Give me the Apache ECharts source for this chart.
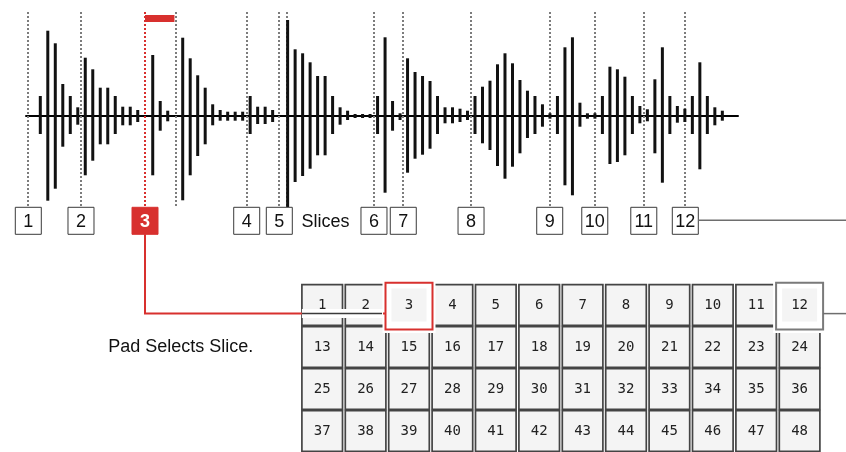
<!DOCTYPE html>
<html><head><meta charset="utf-8">
<script src="https://cdn.jsdelivr.net/npm/echarts@6/dist/echarts.min.js"></script>
<style>html,body{margin:0;padding:0;background:#fff}#c{width:846px;height:452px}</style>
</head><body><div id="c"></div>
<script>
// waveform: amplitude above / below the baseline for each sample bar
const ampUp = [20,85.3,72.7,32,20,8.7,58.3,46.7,28.3,28.3,20,9.3,9.3,6,0,61,15,5.3,0,78.3,57.7,40.7,28.3,11.7,6,4.3,4.3,4.3,20,9.3,9.3,6,0,96,66.7,62.7,53.7,40,40,20,8.7,5.3,2,2,2,20,78.7,15,2.7,57.7,44,40,35,20,8.7,8.7,7.3,5.3,20,29.3,35.3,51.7,62.7,52.7,36,25.3,20,11.7,2.7,20,68.7,78.7,13.3,2.7,2.7,20,49.3,46.7,39.3,20,10,6.7,36.7,68.7,20,10,7.3,20,53.7,20,8.7,5.3];
const ampDown = [18,84.7,72.7,30.7,18,8.7,59.3,44.7,28.3,28.3,18,9.3,9.3,6,0,59.3,14.7,5.3,0,84.3,59.3,40,28.3,9.3,4.7,4.7,4.7,4.7,18,8,8,6,0,91,66,60,52.7,39.3,39.3,18,8.7,4,2,2,2,18,76.7,14.7,4,56.7,42.7,38.7,32.7,18,7.3,7.3,6,4,18,27.3,34,50,62.7,50.7,37.3,22,18,10.7,2.7,18,69.3,79.3,10.7,2.7,2.7,18,48,46,39.3,18,7.3,5.3,37.3,66.7,18,6.7,6,18,53.3,18,9.3,4.7];
// slice start positions (in sample-bar units) and their labels
const sliceLabels = ['1','2','3','4','5','6','7','8','9','10','11','12'];
const slicePos = [-1.6,5.43,13.97,27.54,31.89,44.52,48.43,57.47,67.97,73.98,80.52,86.06];
const extraMarkers = [18.07,32.92];
const selectedSlice = 3;
const selectedRegion = [13.97,17.9];
// pad grid
const padLabels = [
  '1','2','3','4','5','6','7','8','9','10','11','12',
  '13','14','15','16','17','18','19','20','21','22','23','24',
  '25','26','27','28','29','30','31','32','33','34','35','36',
  '37','38','39','40','41','42','43','44','45','46','47','48'];
const padCols = 12;
const highlightedPads = [[2,0,'#d8302e'],[11,0,'#7a7a7a']];

const RED = '#d8302e';
const SANS = '"Liberation Sans", Arial, sans-serif';
const MONO = '"DejaVu Sans Mono", monospace';

const chart = echarts.init(document.getElementById('c'), null, {renderer:'canvas'});

const markerData = slicePos.map((p,k)=>[p, (k+1)===selectedSlice ? 1 : 0]).concat(extraMarkers.map(p=>[p,0]));
const padData = padLabels.map((l,k)=>[k%padCols, Math.floor(k/padCols), l]);

chart.setOption({
  animation:false,
  backgroundColor:'#fff',
  grid:[
    {left:26, width:712, top:16, height:200},
    {left:300.5, width:520.8, top:284, height:171.2}
  ],
  xAxis:[
    {gridIndex:0, type:'value', min:-1.908, max:93.09,
     axisLine:{show:true, onZero:true, lineStyle:{color:'#000', width:2}},
     axisTick:{show:false}, axisLabel:{show:false}, splitLine:{show:false}},
    {gridIndex:1, type:'value', min:0, max:12, show:false}
  ],
  yAxis:[
    {gridIndex:0, type:'value', min:-100, max:100,
     axisLine:{show:false}, axisTick:{show:false}, axisLabel:{show:false}, splitLine:{show:false}},
    {gridIndex:1, type:'value', min:0, max:4, inverse:true, show:false}
  ],
  series:[
    { // slice marker lines
      type:'custom', xAxisIndex:0, yAxisIndex:0, clip:false, z:1,
      data: markerData,
      renderItem:(params, api)=>{
        const x = api.value(0), red = api.value(1);
        const p1 = api.coord([x, 104]);
        const p2 = api.coord([x, red ? -91.3 : -92]);
        return {type:'line', shape:{x1:Math.round(p1[0]), y1:p1[1], x2:Math.round(p2[0]), y2:p2[1]},
          style:{stroke: red ? RED : '#7c7c7c', lineWidth:2, lineDash:[2,2]}};
      }
    },
    { // waveform bars
      type:'custom', xAxisIndex:0, yAxisIndex:0, clip:false, z:3,
      data: ampUp.map((u,i)=>[i,u,ampDown[i]]),
      encode:{x:0, y:[1,2]},
      renderItem:(params, api)=>{
        const i = api.value(0);
        const p1 = api.coord([i, api.value(1)]);
        const p2 = api.coord([i, -api.value(2)]);
        return {type:'line', shape:{x1:p1[0], y1:p1[1], x2:p2[0], y2:p2[1]},
          style:{stroke:'#111', lineWidth:3}};
      }
    },
    { // selected region bar
      type:'custom', xAxisIndex:0, yAxisIndex:0, clip:false, z:3,
      data:[selectedRegion],
      renderItem:(params, api)=>{
        const a = api.coord([api.value(0), 101]);
        const b = api.coord([api.value(1), 94]);
        return {type:'rect', shape:{x:a[0], y:a[1], width:b[0]-a[0], height:b[1]-a[1]}, style:{fill:RED}};
      }
    },
    { // slice number boxes
      type:'custom', xAxisIndex:0, yAxisIndex:0, clip:false, z:4,
      data: slicePos.map((p,k)=>[p,k]),
      renderItem:(params, api)=>{
        const k = api.value(1);
        const c = api.coord([api.value(0), -104.8]);
        const sel = (k+1)===selectedSlice;
        return {type:'group', children:[
          {type:'rect', shape:{x:c[0]-13, y:c[1]-13.5, width:26, height:27},
            style:{fill: sel ? RED : '#fff', stroke: sel ? RED : '#3a3a3a', lineWidth:1}},
          {type:'text', x:c[0], y:c[1]+1,
            style:{text:sliceLabels[k], fill: sel ? '#fff' : '#111', font:(sel?'bold ':'')+'18px '+SANS,
              align:'center', verticalAlign:'middle'}}
        ]};
      }
    },
    { // pads
      type:'custom', xAxisIndex:1, yAxisIndex:1, clip:false, z:2,
      data: padData,
      renderItem:(params, api)=>{
        const c = api.coord([api.value(0)+0.5, api.value(1)+0.5]);
        return {type:'group', children:[
          {type:'rect', shape:{x:c[0]-20.3, y:c[1]-20.3, width:40.6, height:40.6},
            style:{fill:'#f4f4f4', stroke:'#444', lineWidth:1.7}},
          {type:'text', x:c[0], y:c[1],
            style:{text:padLabels[params.dataIndex], fill:'#222', font:'14px '+MONO, align:'center', verticalAlign:'middle'}}
        ]};
      }
    },
    { // highlighted pads
      type:'custom', xAxisIndex:1, yAxisIndex:1, clip:false, z:6,
      data: highlightedPads,
      renderItem:(params, api)=>{
        const col = api.value(0), row = api.value(1);
        const color = highlightedPads[params.dataIndex][2];
        const c = api.coord([col+0.5, row+0.5]);
        return {type:'group', children:[
          {type:'rect', shape:{x:c[0]-26.5, y:c[1]-25, width:53, height:53}, style:{fill:'#fff'}},
          {type:'rect', shape:{x:c[0]-17.5, y:c[1]-16.5, width:35, height:33}, style:{fill:'#f4f4f4'}},
          {type:'rect', shape:{x:c[0]-23.5, y:c[1]-22.2, width:47, height:46.7},
            style:{fill:null, stroke:color, lineWidth:2}},
          {type:'text', x:c[0], y:c[1],
            style:{text:padLabels[row*padCols+col], fill:'#222', font:'14px '+MONO, align:'center', verticalAlign:'middle'}}
        ]};
      }
    }
  ]
});

// connectors computed through the chart's scales
const box3 = chart.convertToPixel({gridIndex:0}, [slicePos[selectedSlice-1], -118.3]);
const box12 = chart.convertToPixel({gridIndex:0}, [slicePos[11], -104.8]);
const pad3 = chart.convertToPixel({gridIndex:1}, [highlightedPads[0][0]+0.5, highlightedPads[0][1]+0.5]);
const pad12 = chart.convertToPixel({gridIndex:1}, [highlightedPads[1][0]+0.5, highlightedPads[1][1]+0.5]);
const pad1 = chart.convertToPixel({gridIndex:1}, [0.5, 0.5]);
const connY = pad3[1] + 8.6;

chart.setOption({
  graphic:[
    {type:'polyline', z:50, shape:{points:[[box3[0], box3[1]],[box3[0], connY],[pad3[0]-23.5, connY]]},
      style:{stroke:RED, lineWidth:2, fill:null}},
    {type:'line', z:51, shape:{x1:pad1[0]-20.3, y1:connY, x2:pad3[0]-26, y2:connY}, style:{stroke:'#fff', lineWidth:9}},
    {type:'line', z:52, shape:{x1:pad1[0]-20.3, y1:connY, x2:pad3[0]-27, y2:connY}, style:{stroke:'#3a3a3a', lineWidth:1.5}},
    {type:'line', z:50, shape:{x1:box12[0]+13, y1:box12[1]-0.5, x2:846, y2:box12[1]-0.5}, style:{stroke:'#6e6e6e', lineWidth:1.5}},
    {type:'line', z:50, shape:{x1:pad12[0]+23.5, y1:connY, x2:846, y2:connY}, style:{stroke:'#6e6e6e', lineWidth:1.5}},
    {type:'text', z:50, x:301.5, y:221.7, style:{text:'Slices', fill:'#111', font:'18px '+SANS, verticalAlign:'middle'}},
    {type:'text', z:50, x:108.3, y:347.5, style:{text:'Pad Selects Slice.', fill:'#111', font:'18px '+SANS, verticalAlign:'middle'}}
  ]
});
</script>
</body></html>
